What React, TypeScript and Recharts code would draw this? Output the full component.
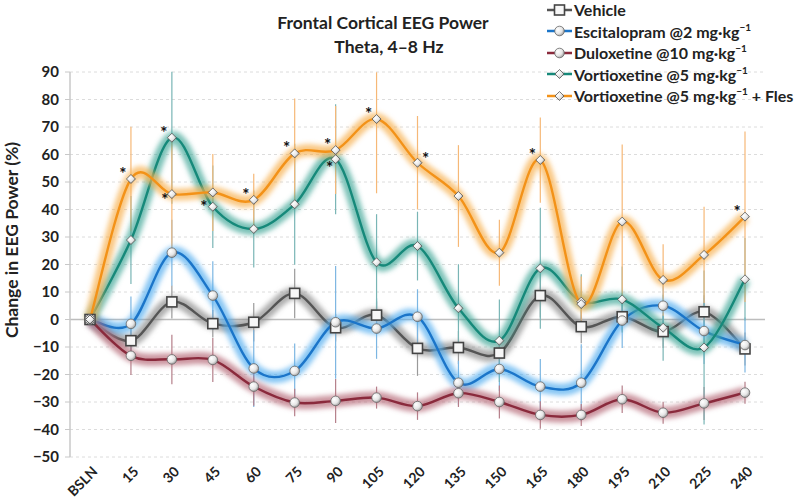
import { LineChart, Line, XAxis, YAxis, CartesianGrid, Legend, ReferenceLine, ErrorBar } from 'recharts';

const categories = ['BSLN', '15', '30', '45', '60', '75', '90', '105', '120', '135', '150', '165', '180', '195', '210', '225', '240'];

const vehicle = [0, -7.7, 6.4, -1.5, -1, 9.5, -3, 1.6, -10.5, -10.2, -12.2, 8.7, -2.6, 1, -4.4, 2.8, -10.7];
const escitalopram = [0, -1.6, 24.3, 8.7, -17.8, -18.7, -1, -3.3, 1, -23, -18, -24.4, -23, -0.4, 5, -4.2, -9.3];
const duloxetine = [0, -13.2, -14.5, -14.7, -24.4, -30.2, -29.6, -28.4, -31.5, -26.8, -30, -34.7, -34.7, -29, -33.9, -30.5, -26.6];
const vortioxetine = [0, 28.9, 66.1, 41, 32.9, 41.9, 58.3, 20.8, 26.7, 4.1, -7.7, 18.6, 6.5, 7.3, -3, -10.2, 14.6];
const fles = [0, 51.1, 45.6, 46.2, 43.5, 60.4, 61.6, 72.9, 57, 44.9, 24.3, 58, 5.6, 35.6, 14.4, 23.5, 37.4];

// error bars as [below, above]
const vehicleErr = [0, 5, 6, 5, 7, 9, 5, 5, 10, 6, 6, 8, 6, 5, 6, 6, 6];
const escitalopramErr = [0, 10, 12, 12.5, 14, 10, 20.5, 11, 10, 8, 8, 10, 14, 10, 8, 12, 10];
const duloxetineErr = [0, 7, 9, 8, 7, 5, 8, 4, 5, 5, 6, 5, 4, 5, 4, 6, 4];
const vortioxetineErr = [0, 16, 24, 15, 14, 22, 20, 17.5, 12.5, 16, 15, 22, 10, 12, 12, 28, 15];
const flesErr: (number | number[])[] = [0, 19, 20, 14, 9.5, 20, 16, [27, 17], 17, 18.5, 12, 15.5, 10, 28, 13, 17.5, 31];

// significance marks (*)
const vortioxetineSig = [0, 0, 1, 1, 0, 0, 1, 0, 0, 0, 0, 0, 0, 0, 0, 0, 0];
const flesSig = [0, 1, 1, 0, 1, 1, 1, 1, 1, 0, 0, 1, 0, 0, 0, 0, 1];
const noSig = categories.map(() => 0);

const yTicks = [90, 80, 70, 60, 50, 40, 30, 20, 10, 0, -10, -20, -30, -40, -50];

const FONT = 'Lato, "Open Sans", sans-serif';

const series = [
  { key: 'vehicle', name: 'Vehicle', values: vehicle, err: vehicleErr, sig: noSig, color: '#555555', halo: '#8c8c8c', bar: '#9a9a9a', shape: 'square' },
  { key: 'escitalopram', name: 'Escitalopram @2 mg·kg', values: escitalopram, err: escitalopramErr, sig: noSig, color: '#1b75c9', halo: '#56aef0', bar: '#7cb6e2', shape: 'circle' },
  { key: 'duloxetine', name: 'Duloxetine @10 mg·kg', values: duloxetine, err: duloxetineErr, sig: noSig, color: '#8a2a3c', halo: '#b56a78', bar: '#b57f8a', shape: 'circle' },
  { key: 'vortioxetine', name: 'Vortioxetine @5 mg·kg', values: vortioxetine, err: vortioxetineErr, sig: vortioxetineSig, color: '#16897a', halo: '#45a899', bar: '#79b5b5', shape: 'diamond' },
  { key: 'fles', name: 'Vortioxetine @5 mg·kg', suffix: ' + Fles', values: fles, err: flesErr, sig: flesSig, color: '#f39218', halo: '#f7b150', bar: '#f6b877', shape: 'diamond' },
];

const rows = categories.map((c, i) => {
  const r: Record<string, any> = { time: c };
  series.forEach((s) => {
    r[s.key] = s.values[i];
    r[s.key + 'Err'] = s.err[i];
  });
  return r;
});

// Excel-like smoothed line (Catmull-Rom as cubic bezier)
const smooth = (context: any) => {
  let pts: number[][] = [];
  return {
    areaStart() {},
    areaEnd() {},
    lineStart() {
      pts = [];
    },
    point(x: number, y: number) {
      pts.push([+x, +y]);
    },
    lineEnd() {
      const n = pts.length;
      if (!n) return;
      context.moveTo(pts[0][0], pts[0][1]);
      const t = 1 / 6;
      for (let i = 0; i < n - 1; i++) {
        const p0 = pts[Math.max(i - 1, 0)];
        const p1 = pts[i];
        const p2 = pts[i + 1];
        const p3 = pts[Math.min(i + 2, n - 1)];
        context.bezierCurveTo(
          p1[0] + (p2[0] - p0[0]) * t,
          p1[1] + (p2[1] - p0[1]) * t,
          p2[0] - (p3[0] - p1[0]) * t,
          p2[1] - (p3[1] - p1[1]) * t,
          p2[0],
          p2[1]
        );
      }
    },
  };
};

const starOffset: Record<string, [number, number]> = {
  'fles-2': [-7, 5],
  'fles-8': [8, -5],
  'vortioxetine-3': [-9, -1],
  'vortioxetine-6': [-6, 8],
};

const Marker = ({ shape, x, y }: { shape: string; x: number; y: number }) => {
  if (shape === 'square') {
    return <rect x={x - 5} y={y - 5} width={10} height={10} fill="#f7f7f7" stroke="#444" strokeWidth={1.6} />;
  }
  if (shape === 'circle') {
    return <circle cx={x} cy={y} r={4.8} fill="url(#ball)" stroke="#666" strokeWidth={0.8} />;
  }
  return (
    <path
      d={`M${x},${y - 4.5}L${x + 4.5},${y}L${x},${y + 4.5}L${x - 4.5},${y}Z`}
      fill="url(#ball)"
      stroke="#555"
      strokeWidth={0.8}
    />
  );
};

const makeDot = (s: (typeof series)[number]) => (props: any) => {
  const { cx, cy, index } = props;
  const off = starOffset[`${s.key}-${index}`] || [-8, -6];
  return (
    <g key={`${s.key}-dot-${index}`}>
      <Marker shape={s.shape} x={cx} y={cy} />
      {s.sig[index] ? (
        <text
          x={cx + off[0]}
          y={cy + off[1] + 7}
          textAnchor="middle"
          fontSize={17}
          fontWeight={700}
          fontFamily={FONT}
          fill="#111"
        >
          *
        </text>
      ) : null}
    </g>
  );
};

const XTick = ({ x, y, payload }: any) => (
  <g transform={`translate(${x + 5},${y + 4})`}>
    <text
      transform="rotate(-45)"
      textAnchor="end"
      dy="0.35em"
      fontSize={14}
      fontWeight={700}
      fontFamily={FONT}
      fill="#222"
    >
      {payload.value}
    </text>
  </g>
);

const LegendContent = () => (
  <div style={{ fontFamily: FONT, fontWeight: 700, fontSize: 16, color: '#222' }}>
    {series.map((s) => (
      <div key={s.key} style={{ display: 'flex', alignItems: 'center', whiteSpace: 'pre', height: 21.5 }}>
        <svg width={27} height={14} style={{ marginRight: 1, flex: 'none' }}>
          <line x1={1} y1={7} x2={26} y2={7} stroke={s.color} strokeWidth={2.5} />
          <Marker shape={s.shape} x={13.5} y={7} />
        </svg>
        <span style={{ lineHeight: '21px' }}>
          {s.name}
          {s.key !== 'vehicle' ? (
            <span style={{ fontSize: 10, position: 'relative', top: -7, lineHeight: 0 }}>−1</span>
          ) : null}
          {s.suffix || ''}
        </span>
      </div>
    ))}
  </div>
);

export default function App() {
  return (
    <div style={{ position: 'absolute', left: 0, top: 0, width: 800, height: 504, background: '#fff' }}>
      <LineChart width={800} height={504} data={rows} margin={{ top: 72, right: 35, left: 0, bottom: 0 }}>
        <defs>
          <filter id="glow" filterUnits="userSpaceOnUse" x={0} y={0} width={800} height={504}>
            <feGaussianBlur stdDeviation={2.6} />
          </filter>
          <radialGradient id="ball" cx="35%" cy="35%" r="70%">
            <stop offset="0%" stopColor="#ffffff" />
            <stop offset="60%" stopColor="#e6e6e6" />
            <stop offset="100%" stopColor="#9a9a9a" />
          </radialGradient>
        </defs>
        <text x={383} y={29} textAnchor="middle" fontSize={17.5} fontWeight={700} fontFamily={FONT} fill="#222">
          Frontal Cortical EEG Power
        </text>
        <text x={389} y={53} textAnchor="middle" fontSize={17.5} fontWeight={700} fontFamily={FONT} fill="#222">
          Theta, 4–8 Hz
        </text>
        <text
          transform="translate(18,240) rotate(-90)"
          textAnchor="middle"
          fontSize={17.5}
          fontWeight={700}
          fontFamily={FONT}
          fill="#222"
        >
          Change in EEG Power (%)
        </text>
        <CartesianGrid vertical={false} stroke="#dcdcdc" strokeDasharray="3 3" />
        <XAxis
          dataKey="time"
          interval={0}
          axisLine={false}
          tickLine={false}
          height={47}
          padding={{ left: 20, right: 20 }}
          tick={<XTick />}
        />
        <YAxis
          type="number"
          domain={[-50, 90]}
          ticks={yTicks}
          allowDataOverflow
          width={70}
          axisLine={{ stroke: '#c8c8c8', strokeWidth: 1.5 }}
          tickLine={{ stroke: '#c8c8c8' }}
          tickSize={5}
          tickMargin={6}
          tickFormatter={(v: number) => (v < 0 ? `−${Math.abs(v)}` : `${v}`)}
          tick={{ fontSize: 15, fontWeight: 700, fill: '#222', fontFamily: FONT }}
        />
        <ReferenceLine y={0} stroke="#bdbdbd" strokeWidth={1.5} />
        {series.map((s) => (
          <Line
            key={s.key + '-err'}
            dataKey={s.key}
            stroke="none"
            dot={false}
            activeDot={false}
            legendType="none"
            isAnimationActive={false}
          >
            <ErrorBar dataKey={s.key + 'Err'} width={0} stroke={s.bar} strokeWidth={1.2} direction="y" />
          </Line>
        ))}
        {series.flatMap((s) => [
          <Line
            key={s.key + '-halo'}
            dataKey={s.key}
            type={smooth as any}
            stroke={s.halo}
            strokeWidth={12}
            strokeOpacity={0.7}
            filter="url(#glow)"
            dot={false}
            activeDot={false}
            legendType="none"
            isAnimationActive={false}
          />,
          <Line
            key={s.key}
            dataKey={s.key}
            name={s.name}
            type={smooth as any}
            stroke={s.color}
            strokeWidth={2.4}
            dot={makeDot(s)}
            activeDot={false}
            isAnimationActive={false}
          />,
        ])}
        <Legend
          layout="vertical"
          verticalAlign="middle"
          align="center"
          content={<LegendContent />}
          wrapperStyle={{ position: 'absolute', top: -1, left: 546, width: 254 }}
        />
      </LineChart>
    </div>
  );
}
